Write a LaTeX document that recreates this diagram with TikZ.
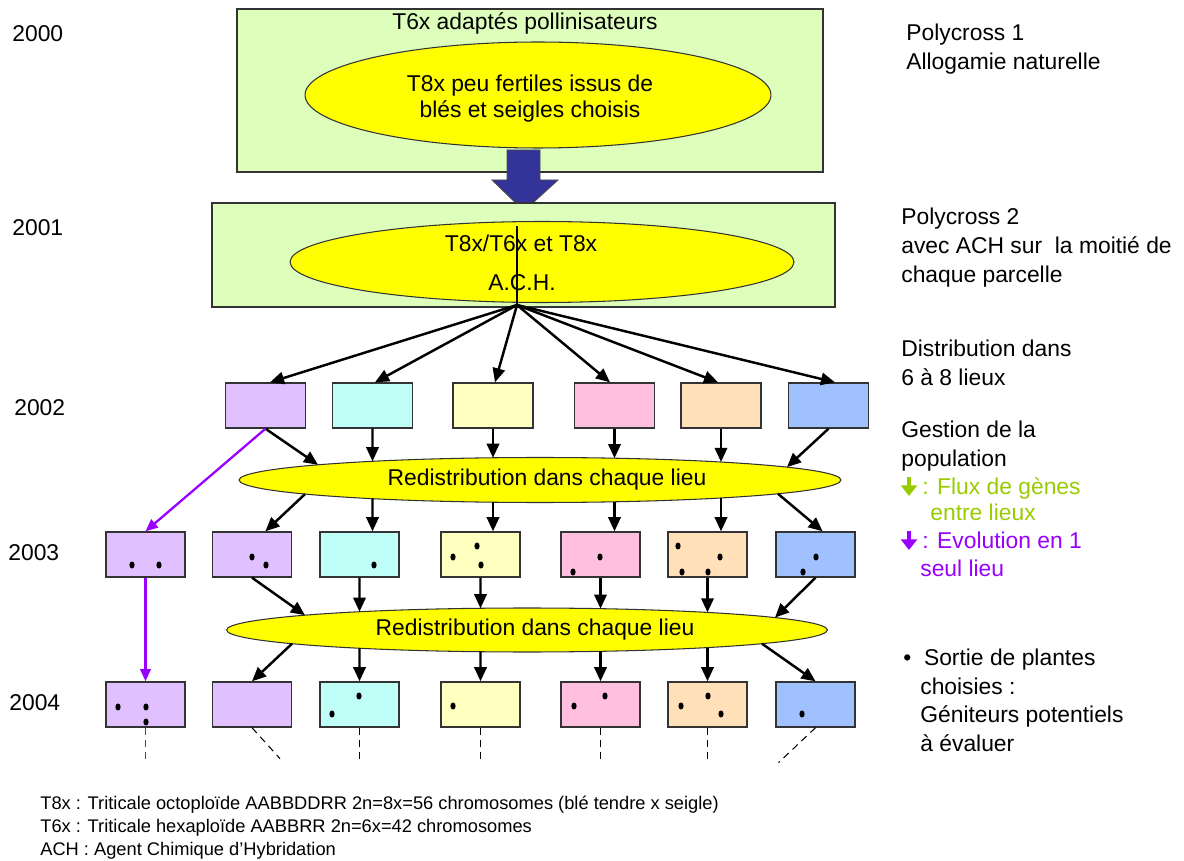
\documentclass[tikz,border=0pt]{standalone}
\usepackage{fontspec}
\setmainfont{Liberation Sans}
\usetikzlibrary{shapes.geometric,arrows.meta,calc}
\definecolor{lgreen}{HTML}{DDFFBB}
\definecolor{yel}{HTML}{FFFF00}
\definecolor{navy}{HTML}{333399}
\definecolor{cLav}{HTML}{E0C0FF}
\definecolor{cCyan}{HTML}{C0FFF8}
\definecolor{cYel}{HTML}{FFFFC0}
\definecolor{cPink}{HTML}{FFC0E0}
\definecolor{cPeach}{HTML}{FFE0B8}
\definecolor{cBlue}{HTML}{A0C0FF}
\definecolor{purp}{HTML}{9900FF}
\definecolor{lime}{HTML}{99CC00}
\begin{document}
\begin{tikzpicture}[x=0.02cm,y=-0.02cm,
  font=\fontsize{13}{15}\selectfont,
  bigbox/.style={draw=black!80, fill=lgreen, line width=0.8pt, inner sep=0},
  cbox/.style={draw=black!80, line width=0.8pt, minimum width=1.58cm, minimum height=0.9cm, inner sep=0},
  oval/.style={ellipse, draw=black!80, fill=yel, line width=0.6pt, inner sep=0},
  arr/.style={line width=1.4pt, -{Triangle[length=8pt,width=7pt]}},
  parr/.style={line width=1.3pt, draw=purp, -{Triangle[length=7pt,width=6pt]}},
  dsh/.style={line width=0.6pt, dashed, dash pattern=on 4pt off 3pt},
  lbl/.style={anchor=west, inner sep=0, text height=9.3pt, text depth=2.6pt},
  ctr/.style={anchor=center, inner sep=0, text height=9.3pt, text depth=2.6pt},
  foot/.style={anchor=west, inner sep=0, font=\fontsize{10.4}{12}\selectfont, text height=7.5pt, text depth=2pt},
  dotstyle/.style={fill=black}
]
\useasboundingbox (0,0) rectangle (1184,861);

% ---- 2000
\node[bigbox, minimum width=11.72cm, minimum height=3.26cm] (p1) at (530,90.5) {};
\node[ctr] (p1t) at (525,24) {T6x adaptés pollinisateurs};
\node[oval, minimum width=9.32cm, minimum height=2.12cm] (e1) at (538,95) {};
\node[ctr] (e1a) at (530,86) {T8x peu fertiles issus de};
\node[ctr] (e1b) at (530,112) {blés et seigles choisis};

% big blue arrow
\draw[fill=navy, draw=black!70, line width=0.5pt] (507,150) -- (540,150) -- (540,180) -- (558,180) -- (524,211) -- (492,180) -- (507,180) -- cycle;

% ---- 2001
\node[bigbox, minimum width=12.46cm, minimum height=2.08cm] (p2) at (523.5,255) {};
\node[oval, minimum width=10.08cm, minimum height=1.62cm] (e2) at (542,262) {};
\node[ctr] (e2a) at (521,246) {T8x/T6x et T8x};
\node[ctr] (e2b) at (522,285) {A.C.H.};
\coordinate (fan) at (517,305);
\draw[line width=0.6pt] (fan) -- (517,226);

% ---- 2002 row
\node[cbox, fill=cLav, minimum width=1.6cm] (a1) at (265.5,405.5) {};
\node[cbox, fill=cCyan, minimum width=1.6cm] (a2) at (372.5,405.5) {};
\node[cbox, fill=cYel, minimum width=1.6cm] (a3) at (493,405.5) {};
\node[cbox, fill=cPink, minimum width=1.6cm] (a4) at (614.5,405.5) {};
\node[cbox, fill=cPeach, minimum width=1.6cm] (a5) at (721,405.5) {};
\node[cbox, fill=cBlue, minimum width=1.6cm] (a6) at (828.5,405.5) {};

\draw[arr] (fan) -- ([xshift=0.09cm]a1.north);
\draw[arr] (fan) -- ([xshift=0.05cm]a2.north);
\draw[arr] (fan) -- ([xshift=0.04cm]a3.north);
\draw[arr] (fan) -- ([xshift=-0.09cm]a4.north);
\draw[arr] (fan) -- ([xshift=-0.06cm]a5.north);
\draw[arr] (fan) -- ([xshift=0.13cm]a6.north);

% ---- Redistribution 1
\node[oval, minimum width=12.04cm, minimum height=0.9cm] (r1) at (540,480) {};
\node[ctr] (r1t) at (547,480) {Redistribution dans chaque lieu};

\draw[arr] (a1.south) -- ($(r1)+(-222,-15.2)$);
\draw[arr] (a2.south) -- ($(r1)+(-167.5,-18.7)$);
\draw[arr] (a3.south) -- ($(r1)+(-47,-22.2)$);
\draw[arr] (a4.south) -- ($(r1)+(74.5,-21.8)$);
\draw[arr] (a5.south) -- ($(r1)+(181,-18)$);
\draw[arr] (a6.south) -- ($(r1)+(247,-12.9)$);

% ---- 2003 row
\node[cbox, fill=cLav] (b0) at (145.5,554.5) {};
\node[cbox, fill=cLav] (b1) at (252,554.5) {};
\node[cbox, fill=cCyan] (b2) at (359.5,554.5) {};
\node[cbox, fill=cYel] (b3) at (480.5,554.5) {};
\node[cbox, fill=cPink] (b4) at (600.5,554.5) {};
\node[cbox, fill=cPeach] (b5) at (707.5,554.5) {};
\node[cbox, fill=cBlue] (b6) at (815.5,554.5) {};

\draw[parr] (a1.south) -- (b0.north);

\draw[arr] ($(r1)+(-235,14.1)$) -- (b1.60);
\draw[arr] ($(r1)+(-167.5,18.7)$) -- (a2.south |- b2.north);
\draw[arr] ($(r1)+(-47,22.2)$) -- (a3.south |- b3.north);
\draw[arr] ($(r1)+(74.5,21.8)$) -- (a4.south |- b4.north);
\draw[arr] ($(r1)+(181,18)$) -- (a5.south |- b5.north);
\draw[arr] ($(r1)+(238,13.8)$) -- (b6.73);

% dots 2003
\foreach \p in {(132,565),(159,565),(252,557),(266,565),(374,565),(477,546),(453,557),(481,565),(600,557),(573,572),(678,546),(720,557),(682,572),(708,572),(816,557),(803,572)}
  \fill[dotstyle] \p ellipse [x radius=1.5pt, y radius=2pt];

% ---- Redistribution 2
\node[oval, minimum width=12.02cm, minimum height=0.88cm] (r2) at (527,630) {};
\node[ctr] (r2t) at (535,630) {Redistribution dans chaque lieu};

\draw[arr] (b1.south) -- ($(r2)+(-222,-14.8)$);
\draw[arr] (b2.south) -- ($(r2)+(-167.5,-18.3)$);
\draw[arr] (b3.south) -- ($(r2)+(-46.5,-21.7)$);
\draw[arr] (b4.south) -- ($(r2)+(73.5,-21.3)$);
\draw[arr] (b5.south) -- ($(r2)+(180.5,-17.6)$);
\draw[arr] (b6.south) -- ($(r2)+(248,-12.4)$);

% ---- 2004 row
\node[cbox, fill=cLav] (c0) at (145.5,704.5) {};
\node[cbox, fill=cLav] (c1) at (252,704.5) {};
\node[cbox, fill=cCyan] (c2) at (359.5,704.5) {};
\node[cbox, fill=cYel] (c3) at (480.5,704.5) {};
\node[cbox, fill=cPink] (c4) at (600.5,704.5) {};
\node[cbox, fill=cPeach] (c5) at (707.5,704.5) {};
\node[cbox, fill=cBlue] (c6) at (815.5,704.5) {};

\draw[parr] (b0.south) -- (c0.north);

\draw[arr] ($(r2)+(-235,13.7)$) -- (c1.north);
\draw[arr] ($(r2)+(-167.5,18.3)$) -- (c2.north);
\draw[arr] ($(r2)+(-46.5,21.7)$) -- (c3.north);
\draw[arr] ($(r2)+(73.5,21.3)$) -- (c4.north);
\draw[arr] ($(r2)+(180.5,17.6)$) -- (c5.north);
\draw[arr] ($(r2)+(235,13.7)$) -- (c6.north);

% dots 2004
\foreach \p in {(118,707),(146,707),(146,722),(359,696),(332,714),(453,706),(605,696),(574,706),(708,696),(681,706),(721,714),(802,714)}
  \fill[dotstyle] \p ellipse [x radius=1.5pt, y radius=2pt];

% dashed continuations
\draw[dsh, draw=purp] (c0.south) -- ++(0,31);
\draw[dsh] (c1.south) -- ++(28,31);
\draw[dsh] (c2.south) -- ++(0,31);
\draw[dsh] (c3.south) -- ++(0,31);
\draw[dsh] (c4.south) -- ++(0,31);
\draw[dsh] (c5.south) -- ++(0,31);
\draw[dsh] (c6.south) -- ++(-37,35);

% ---- years
\node[lbl] (y0) at (12,36) {2000};
\node[lbl] (y1) at (12,230) {2001};
\node[lbl] (y2) at (14,410) {2002};
\node[lbl] (y3) at (8,555) {2003};
\node[lbl] (y4) at (9,705) {2004};

% ---- right column
\node[lbl] (t1) at (906,35) {Polycross 1};
\node[lbl] (t2) at (906,64) {Allogamie naturelle};
\node[lbl] (t3) at (901,219) {Polycross 2};
\node[lbl] (t4) at (901,248) {avec ACH sur\ \ la moitié de};
\node[lbl] (t5) at (901,277) {chaque parcelle};
\node[lbl] (t6) at (901,351) {Distribution dans};
\node[lbl] (t7) at (901,380) {6 à 8 lieux};
\node[lbl] (t8) at (901,432) {Gestion de la};
\node[lbl] (t9) at (901,461) {population};
\coordinate (ga) at (909,477);
\coordinate (gb) at (909,496);
\draw[line width=2.2pt, draw=lime, -{Triangle[length=6pt,width=9pt]}] (ga) -- (gb);
\node[lbl, text=lime] (t10) at (922,489) {: Flux de gènes};
\node[lbl, text=lime] (t11) at (930,515) {entre lieux};
\coordinate (pa) at (909,531);
\coordinate (pb) at (909,550);
\draw[line width=2.2pt, draw=purp, -{Triangle[length=6pt,width=9pt]}] (pa) -- (pb);
\node[lbl, text=purp] (t12) at (922,543) {: Evolution en 1};
\node[lbl, text=purp] (t13) at (920,571) {seul lieu};
\node[lbl] (t14) at (903,660) {•\ \ Sortie de plantes};
\node[lbl] (t15) at (920,689) {choisies :};
\node[lbl] (t16) at (920,717) {Géniteurs potentiels};
\node[lbl] (t17) at (920,746) {à évaluer};

% ---- footnotes
\node[foot] (f1) at (40,805) {T8x : Triticale octoploïde AABBDDRR 2n=8x=56 chromosomes (blé tendre x seigle)};
\node[foot] (f2) at (40,828) {T6x : Triticale hexaploïde AABBRR 2n=6x=42 chromosomes};
\node[foot] (f3) at (40,851) {ACH : Agent Chimique d'Hybridation};
\end{tikzpicture}
\end{document}
